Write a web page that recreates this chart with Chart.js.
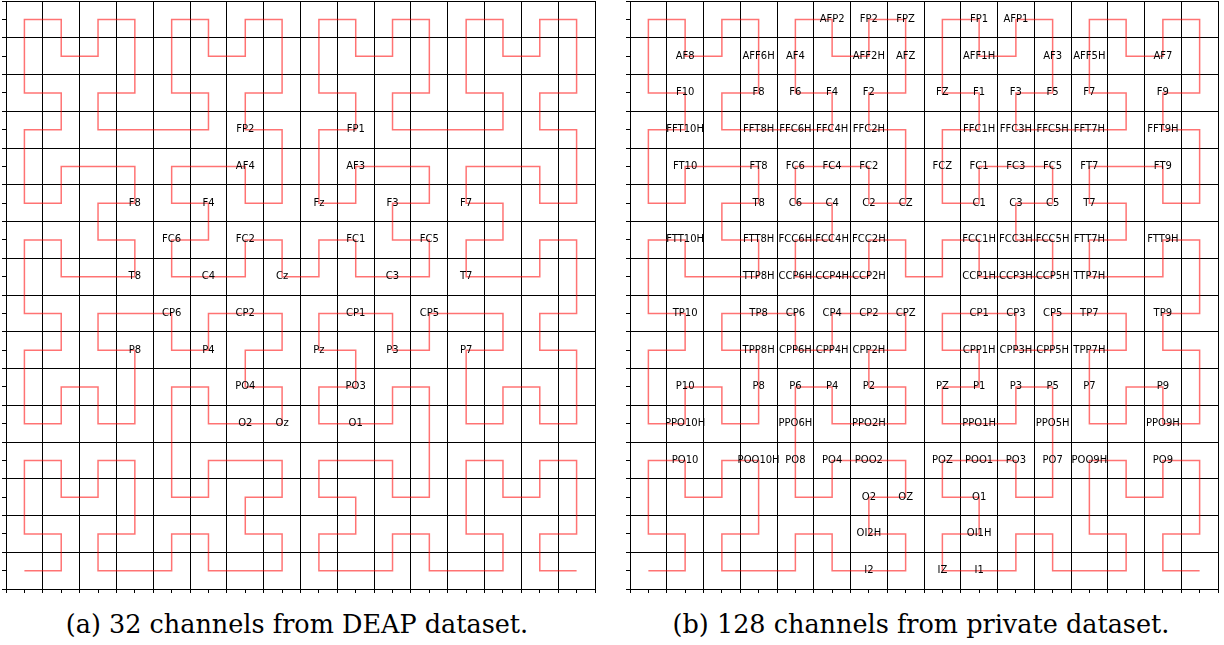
<!DOCTYPE html>
<html>
<head>
<meta charset="utf-8">
<title>EEG channel layouts on a Hilbert curve</title>
<script src="https://cdn.jsdelivr.net/npm/chart.js@4.4.1/dist/chart.umd.min.js"></script>
<style>
  html, body { margin: 0; padding: 0; background: #fff; }
  body { width: 1224px; height: 645px; position: relative; overflow: hidden; }
  .panel { position: absolute; top: 0; width: 600px; height: 600px; }
  .caption {
    position: absolute; top: 612px; width: 600px; text-align: center;
    font-family: "DejaVu Serif", serif; font-size: 25.5px; line-height: 1;
    color: #000; white-space: nowrap;
  }
</style>
</head>
<body>
<div class="panel" style="left:0"><canvas id="deap" width="600" height="600"></canvas></div>
<div class="panel" style="left:624px"><canvas id="private" width="600" height="600"></canvas></div>
<div class="caption" style="left:-3px">(a) 32 channels from DEAP dataset.</div>
<div class="caption" style="left:621px">(b) 128 channels from private dataset.</div>
<script>
// 16 x 16 cells, one slot per cell
const gridSize = 16;

// path through every cell starting bottom-left, one letter per step
// (R/L/U/D), written as quadrant blocks
const curveSteps = [
  "RULUURDRURDDLDR R URDRRULURULLDLU U URDRRULURULLDLU L LDRDDLULDLUURUL",
  "U",
  "URDRRULURULLDLU U RULUURDRURDDLDR R RULUURDRURDDLDR D DLULLDRDLDRRURD",
  "R",
  "URDRRULURULLDLU U RULUURDRURDDLDR R RULUURDRURDDLDR D DLULLDRDLDRRURD",
  "D",
  "LDRDDLULDLUURUL L DLULLDRDLDRRURD D DLULLDRDLDRRURD R RULUURDRURDDLDR"
].join("").replace(/\s/g, "");

// DEAP montage, one list per grid row (top row first)
const deapNames = [
  [], [], [],
  ["FP2", "FP1"],
  ["AF4", "AF3"],
  ["F8", "F4", "Fz", "F3", "F7"],
  ["FC6", "FC2", "FC1", "FC5"],
  ["T8", "C4", "Cz", "C3", "T7"],
  ["CP6", "CP2", "CP1", "CP5"],
  ["P8", "P4", "Pz", "P3", "P7"],
  ["PO4", "PO3"],
  ["O2", "Oz", "O1"],
  [], [], [], []
];
const deapCols = [
  [], [], [],
  [6, 9],
  [6, 9],
  [3, 5, 8, 10, 12],
  [4, 6, 9, 11],
  [3, 5, 7, 10, 12],
  [4, 6, 9, 11],
  [3, 5, 8, 10, 12],
  [6, 9],
  [6, 7, 9],
  [], [], [], []
];

// 128-channel montage, same layout
const privateNames = [
  ["AFP2", "FP2", "FPZ", "FP1", "AFP1"],
  ["AF8", "AFF6H", "AF4", "AFF2H", "AFZ", "AFF1H", "AF3", "AFF5H", "AF7"],
  ["F10", "F8", "F6", "F4", "F2", "FZ", "F1", "F3", "F5", "F7", "F9"],
  ["FFT10H", "FFT8H", "FFC6H", "FFC4H", "FFC2H", "FFC1H", "FFC3H", "FFC5H", "FFT7H", "FFT9H"],
  ["FT10", "FT8", "FC6", "FC4", "FC2", "FCZ", "FC1", "FC3", "FC5", "FT7", "FT9"],
  ["T8", "C6", "C4", "C2", "CZ", "C1", "C3", "C5", "T7"],
  ["FTT10H", "FTT8H", "FCC6H", "FCC4H", "FCC2H", "FCC1H", "FCC3H", "FCC5H", "FTT7H", "FTT9H"],
  ["TTP8H", "CCP6H", "CCP4H", "CCP2H", "CCP1H", "CCP3H", "CCP5H", "TTP7H"],
  ["TP10", "TP8", "CP6", "CP4", "CP2", "CPZ", "CP1", "CP3", "CP5", "TP7", "TP9"],
  ["TPP8H", "CPP6H", "CPP4H", "CPP2H", "CPP1H", "CPP3H", "CPP5H", "TPP7H"],
  ["P10", "P8", "P6", "P4", "P2", "PZ", "P1", "P3", "P5", "P7", "P9"],
  ["PPO10H", "PPO6H", "PPO2H", "PPO1H", "PPO5H", "PPO9H"],
  ["PO10", "POO10H", "PO8", "PO4", "POO2", "POZ", "POO1", "PO3", "PO7", "POO9H", "PO9"],
  ["O2", "OZ", "O1"],
  ["OI2H", "OI1H"],
  ["I2", "IZ", "I1"]
];
const privateCols = [
  [5, 6, 7, 9, 10],
  [1, 3, 4, 6, 7, 9, 11, 12, 14],
  [1, 3, 4, 5, 6, 8, 9, 10, 11, 12, 14],
  [1, 3, 4, 5, 6, 9, 10, 11, 12, 14],
  [1, 3, 4, 5, 6, 8, 9, 10, 11, 12, 14],
  [3, 4, 5, 6, 7, 9, 10, 11, 12],
  [1, 3, 4, 5, 6, 9, 10, 11, 12, 14],
  [3, 4, 5, 6, 9, 10, 11, 12],
  [1, 3, 4, 5, 6, 7, 9, 10, 11, 12, 14],
  [3, 4, 5, 6, 9, 10, 11, 12],
  [1, 3, 4, 5, 6, 8, 9, 10, 11, 12, 14],
  [1, 4, 6, 9, 11, 14],
  [1, 3, 4, 5, 6, 8, 9, 10, 11, 12, 14],
  [6, 7, 9],
  [6, 9],
  [6, 8, 9]
];

const stepMoves = { R: [1, 0], L: [-1, 0], U: [0, 1], D: [0, -1] };

// turn the step letters into cell-centre points
function curvePoints() {
  let cx = 0, cy = 0;
  const pts = [{ x: cx + 0.5, y: cy + 0.5 }];
  for (const s of curveSteps) {
    cx += stepMoves[s][0];
    cy += stepMoves[s][1];
    pts.push({ x: cx + 0.5, y: cy + 0.5 });
  }
  return pts;
}

// writes the channel names on top of the curve
function labelPlugin(names, cols) {
  return {
    id: 'channelLabels',
    afterDatasetsDraw(chart) {
      const ctx = chart.ctx;
      const xs = chart.scales.x, ys = chart.scales.y;
      ctx.save();
      ctx.font = '10px "DejaVu Sans"';
      ctx.fillStyle = '#000';
      ctx.textAlign = 'center';
      ctx.textBaseline = 'middle';
      names.forEach(function (row, r) {
        row.forEach(function (name, i) {
          const px = xs.getPixelForValue(cols[r][i] + 0.5);
          const py = ys.getPixelForValue(gridSize - r - 0.5);
          ctx.fillText(name, px, py);
        });
      });
      ctx.restore();
    }
  };
}

function gridAxis(isX) {
  return {
    type: 'linear',
    min: 0,
    max: gridSize,
    ticks: { display: false, stepSize: 0.5, autoSkip: false, maxTicksLimit: 100 },
    grid: {
      // cell borders on whole numbers, bare tick marks on the half steps
      color: function (c) {
        return c.tick && c.tick.value % 1 === 0 ? '#000' : 'rgba(0,0,0,0)';
      },
      lineWidth: 1,
      drawTicks: true,
      tickLength: 4,
      tickColor: '#000'
    },
    border: { display: false },
    afterFit: function (scale) {
      if (isX) scale.height = 11; else scale.width = 6;
    }
  };
}

function drawPanel(canvasId, names, cols, rightPad) {
  const ctx = document.getElementById(canvasId).getContext('2d');
  return new Chart(ctx, {
    type: 'scatter',
    data: {
      datasets: [{
        data: curvePoints(),
        showLine: true,
        borderColor: 'rgba(255, 0, 0, 0.55)',
        borderWidth: 1.5,
        pointRadius: 0,
        pointHoverRadius: 0,
        fill: false,
        tension: 0
      }]
    },
    options: {
      responsive: false,
      maintainAspectRatio: false,
      animation: false,
      events: [],
      layout: { padding: { top: 1, right: rightPad, left: 0, bottom: 0 } },
      scales: { x: gridAxis(true), y: gridAxis(false) },
      plugins: {
        legend: { display: false },
        tooltip: { enabled: false }
      }
    },
    plugins: [labelPlugin(names, cols)]
  });
}

drawPanel('deap', deapNames, deapCols, 5);
drawPanel('private', privateNames, privateCols, 6);
</script>
</body>
</html>
